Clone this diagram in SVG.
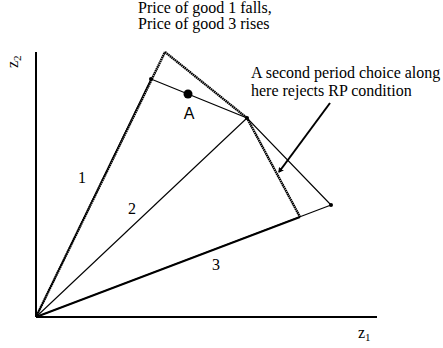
<svg xmlns="http://www.w3.org/2000/svg" width="443" height="348" viewBox="0 0 443 348">
<style>
.serif{font-family:"Liberation Serif","Times New Roman",serif;font-size:16px;fill:#000}
.sans{font-family:"Liberation Sans",Arial,sans-serif;font-size:16px;fill:#000}
.thin{stroke:#000;stroke-width:1.1;fill:none}
.thick{stroke:#000;stroke-width:2;fill:none}
.dot{stroke:#000;stroke-width:2.4;fill:none;stroke-dasharray:1.6 0.5}
</style>
<defs>
<marker id="ah" markerWidth="6" markerHeight="6" refX="4" refY="3" orient="auto" markerUnits="userSpaceOnUse">
<path d="M0,0 L5,3 L0,6 z" fill="#000"/>
</marker>
</defs>
<g id="axes">
<line class="thick" x1="36" y1="52" x2="36" y2="317" stroke-width="1.6"/>
<line class="thick" x1="36" y1="317" x2="377" y2="317" stroke-width="1.6"/>
<text class="serif" transform="translate(18,68) rotate(-90)">z<tspan font-size="11" dy="3">2</tspan></text>
<text class="serif" x="358" y="338">z<tspan font-size="11" dy="3">1</tspan></text>
</g>
<g id="connectors">
<line class="thin" x1="36" y1="317" x2="151" y2="79"/>
<line class="dot" x1="36" y1="317" x2="165" y2="52"/>
<line class="thin" x1="36" y1="317" x2="247" y2="118"/>
<line class="thin" x1="36" y1="317" x2="331" y2="205"/>
<line class="thick" x1="36" y1="317" x2="300" y2="217"/>
<polyline class="thin" points="151,79 247,118 331,205"/>
<polyline class="dot" points="165,52 247,118 300,217"/>
<line class="thick" x1="330" y1="103" x2="279" y2="172" marker-end="url(#ah)"/>
</g>
<g id="points">
<circle cx="151" cy="79" r="2" fill="#000"/>
<circle cx="247" cy="118" r="2" fill="#000"/>
<circle cx="331" cy="205" r="2" fill="#000"/>
</g>
<g id="A">
<circle cx="188" cy="94" r="4.5" fill="#000"/>
<text class="sans" x="189" y="119" text-anchor="middle">A</text>
</g>
<g id="labels">
<text class="serif" x="138" y="13">Price of good 1 falls,</text>
<text class="serif" x="138" y="29">Price of good 3 rises</text>
<text class="serif" x="251" y="78">A second period choice along</text>
<text class="serif" x="251" y="96">here rejects RP condition</text>
<text class="serif" x="82" y="183" text-anchor="middle">1</text>
<text class="serif" x="132" y="214" text-anchor="middle">2</text>
<text class="serif" x="216" y="270" text-anchor="middle">3</text>
</g>
</svg>
